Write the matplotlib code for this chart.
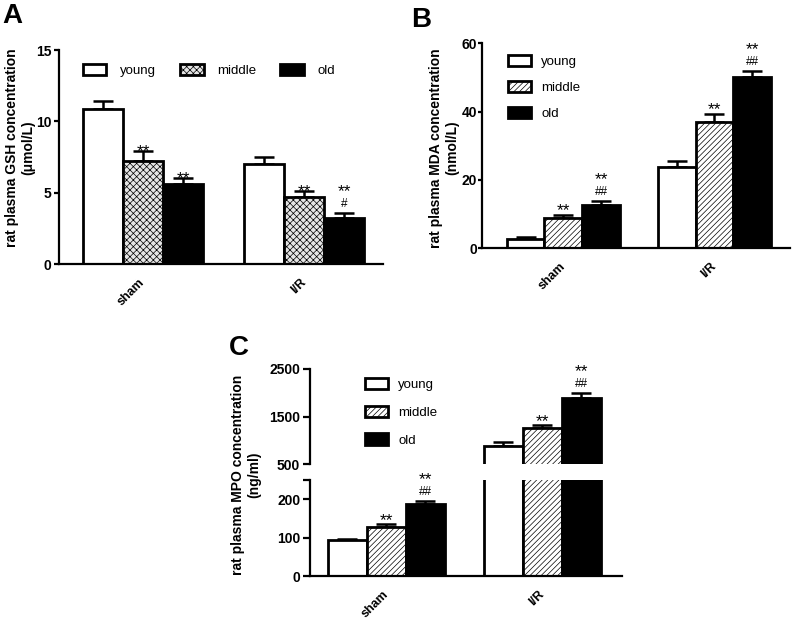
import numpy as np
import matplotlib; matplotlib.use("Agg")
import matplotlib.pyplot as plt
from matplotlib.patches import Patch

plt.rcParams["font.family"] = ["Liberation Sans", "DejaVu Sans"]
plt.rcParams["hatch.linewidth"] = 0.5

# ---- data ----
groups = ["sham", "I/R"]
series = ["young", "middle", "old"]

gsh_young = [10.85, 7.05]
gsh_middle = [7.25, 4.70]
gsh_old = [5.65, 3.22]
gsh_young_err = [0.60, 0.47]
gsh_middle_err = [0.67, 0.44]
gsh_old_err = [0.40, 0.39]
gsh_marks = [["", "**", "**"], ["", "**", "** #"]]

mda_young = [2.8, 23.9]
mda_middle = [8.9, 36.9]
mda_old = [12.7, 50.0]
mda_young_err = [0.5, 1.6]
mda_middle_err = [0.8, 2.3]
mda_old_err = [1.0, 1.9]
mda_marks = [["", "**", "** ##"], ["", "**", "** ##"]]

mpo_young = [93, 885]
mpo_middle = [129, 1250]
mpo_old = [188, 1895]
mpo_young_err = [4, 70]
mpo_middle_err = [7, 65]
mpo_old_err = [8, 90]
mpo_marks = [["", "**", "** ##"], ["", "**", "** ##"]]

W, H = 795, 619
fig = plt.figure(figsize=(W / 100, H / 100), dpi=100)

def px_rect(l, t, r, b):
    return [l / W, 1 - b / H, (r - l) / W, (b - t) / H]

def px(x, y):
    return x / W, 1 - y / H

STYLES = [dict(facecolor="white", hatch=None),
          dict(facecolor="white", hatch="//////"),
          dict(facecolor="black", hatch=None)]
LW = 2.0
BW = 0.25
STAR_FS = 12.5

def style_for(i, dotted):
    st = dict(STYLES[i])
    if i == 1 and dotted:
        st["facecolor"] = "#e4e4e4"
        st["hatch"] = "xxxxx"
    return st

def draw_bars(ax, vals, errs, dotted=False):
    x = np.arange(len(groups))
    for i, (v, e) in enumerate(zip(vals, errs)):
        xs = x + (i - 1) * BW
        ax.errorbar(xs, v, yerr=[np.zeros(len(e)), e], fmt="none", ecolor="black",
                    elinewidth=1.8, capsize=7.5, capthick=1.8, zorder=1)
        ax.bar(xs, v, BW, edgecolor="black", linewidth=LW, zorder=2, **style_for(i, dotted))

def draw_marks(ax, vals, errs, marks, star_off=0.0, only_groups=None):
    for g in range(len(groups)):
        if only_groups is not None and g not in only_groups:
            continue
        for i in range(len(series)):
            parts = marks[g][i].split()
            if not parts:
                continue
            xs = g + (i - 1) * BW
            top = vals[i][g] + errs[i][g]
            if len(parts) == 1:
                ax.annotate(parts[0], (xs, top), xytext=(0, star_off * 0.72), textcoords="offset points",
                            ha="center", va="baseline", fontsize=STAR_FS)
            else:
                ax.annotate(parts[1], (xs, top), xytext=(0, 6 * 0.72), textcoords="offset points",
                            ha="center", va="baseline", fontsize=8.5)
                ax.annotate(parts[0], (xs, top), xytext=(0, 17 * 0.72), textcoords="offset points",
                            ha="center", va="baseline", fontsize=STAR_FS)

def style_axis(ax, tick_len, tick_pad, bottom=True):
    for s in ["top", "right"]:
        ax.spines[s].set_visible(False)
    ax.spines["left"].set_linewidth(1.6)
    ax.spines["bottom"].set_linewidth(1.6)
    if not bottom:
        ax.spines["bottom"].set_visible(False)
    ax.tick_params(axis="y", which="both", direction="out", length=tick_len, width=1.6,
                   pad=tick_pad, labelsize=10)
    for t in ax.get_yticklabels():
        t.set_fontweight("bold")
    ax.tick_params(axis="x", length=0, pad=12, labelsize=9)

def set_xlabels(ax):
    ax.set_xticks(np.arange(len(groups)))
    ax.set_xticklabels(groups, rotation=45, ha="right", va="center", rotation_mode="anchor",
                       fontweight="bold")

def legend_handles(dotted):
    return [Patch(edgecolor="black", linewidth=LW, label=s, **style_for(i, dotted))
            for i, s in enumerate(series)]

# ---- panel A ----
axA = fig.add_axes(px_rect(59.3, 50, 383, 264.3))
gsh_vals = [gsh_young, gsh_middle, gsh_old]
gsh_errs = [gsh_young_err, gsh_middle_err, gsh_old_err]
draw_bars(axA, gsh_vals, gsh_errs, dotted=True)
draw_marks(axA, gsh_vals, gsh_errs, gsh_marks, star_off=-5)
axA.set_ylim(0, 15)
axA.set_yticks([0, 5, 10, 15])
axA.set_xlim(-0.52, 1.49)
set_xlabels(axA)
style_axis(axA, 3.6, 2)
axA.legend(handles=legend_handles(True), ncol=3, frameon=False, fontsize=9.5, borderpad=0,
           handlelength=1.8, handleheight=1.0, handletextpad=1.0, columnspacing=1.85,
           loc="upper left", bbox_to_anchor=px(76, 57), bbox_transform=fig.transFigure)
fig.text(*px(20, 148), "rat plasma GSH concentration\n(\u03bcmol/L)", rotation=90, ha="center",
         va="center", fontsize=10, fontweight="bold", multialignment="center")
fig.text(*px(2, 3), "A", fontsize=20, fontweight="bold", ha="left", va="top")

# ---- panel B ----
axB = fig.add_axes(px_rect(481.7, 43.3, 790, 248.3))
mda_vals = [mda_young, mda_middle, mda_old]
mda_errs = [mda_young_err, mda_middle_err, mda_old_err]
draw_bars(axB, mda_vals, mda_errs)
draw_marks(axB, mda_vals, mda_errs, mda_marks, star_off=0)
axB.set_ylim(0, 60)
axB.set_yticks([0, 20, 40, 60])
axB.set_xlim(-0.54, 1.50)
set_xlabels(axB)
style_axis(axB, 2.8, 0.5)
axB.legend(handles=legend_handles(False), ncol=1, frameon=False, fontsize=9.5, borderpad=0,
           handlelength=1.8, handleheight=1.0, handletextpad=0.75, labelspacing=0.95,
           loc="upper left", bbox_to_anchor=px(501, 48), bbox_transform=fig.transFigure)
fig.text(*px(444, 148), "rat plasma MDA concentration\n(nmol/L)", rotation=90, ha="center",
         va="center", fontsize=10, fontweight="bold", multialignment="center")
fig.text(*px(411, 7), "B", fontsize=20, fontweight="bold", ha="left", va="top")

# ---- panel C (broken y axis) ----
axCu = fig.add_axes(px_rect(310, 369, 621.7, 464))
axCl = fig.add_axes(px_rect(310, 480, 621.7, 576.3))
mpo_vals = [mpo_young, mpo_middle, mpo_old]
mpo_errs = [mpo_young_err, mpo_middle_err, mpo_old_err]
for ax in (axCu, axCl):
    draw_bars(ax, mpo_vals, mpo_errs)
    ax.set_xlim(-0.49, 1.51)
draw_marks(axCl, mpo_vals, mpo_errs, mpo_marks, star_off=-1, only_groups=[0])
draw_marks(axCu, mpo_vals, mpo_errs, mpo_marks, star_off=-1, only_groups=[1])
axCu.set_ylim(500, 2500)
axCu.set_yticks([500, 1500, 2500])
axCu.set_xticks([])
style_axis(axCu, 5, 2, bottom=False)
axCl.set_ylim(0, 250)
axCl.set_yticks([0, 100, 200])
axCl.set_yticks([250], minor=True)
set_xlabels(axCl)
style_axis(axCl, 5, 2)
axCu.legend(handles=legend_handles(False), ncol=1, frameon=False, fontsize=9.5, borderpad=0,
            handlelength=1.8, handleheight=1.0, handletextpad=0.75, labelspacing=1.1,
            loc="upper left", bbox_to_anchor=px(358, 371), bbox_transform=fig.transFigure)
fig.text(*px(246.5, 474.5), "rat plasma MPO concentration\n(ng/ml)", rotation=90, ha="center",
         va="center", fontsize=10, fontweight="bold", multialignment="center")
fig.text(*px(229, 335), "C", fontsize=20, fontweight="bold", ha="left", va="top")

fig.savefig("out.png", dpi=100)
